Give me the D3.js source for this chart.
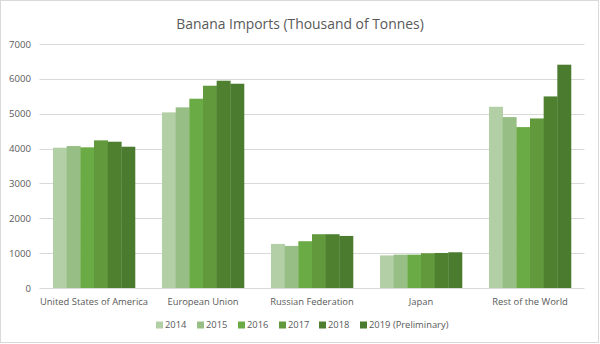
<!DOCTYPE html>
<html><head><meta charset="utf-8">
<script src="https://cdn.jsdelivr.net/npm/d3@7"></script>
<style>html,body{margin:0;padding:0;background:#fff;}svg{display:block;font-family:"Open Sans","Noto Sans",sans-serif;}</style>
</head><body><svg id="c" width="600" height="344"></svg>
<script>
const categories = ["United States of America","European Union","Russian Federation","Japan","Rest of the World"];
const years = ["2014","2015","2016","2017","2018","2019 (Preliminary)"];
const v2014 = [4025, 5038, 1264, 935, 5200];
const v2015 = [4073, 5182, 1207, 957, 4903];
const v2016 = [4035, 5430, 1342, 957, 4616];
const v2017 = [4236, 5803, 1543, 997, 4864];
const v2018 = [4197, 5947, 1543, 1005, 5496];
const v2019 = [4053, 5860, 1494, 1025, 6406];
const yTicks = [0,1000,2000,3000,4000,5000,6000,7000];
const colors = ["#b3cfa5","#97bf85","#6aab45","#62993d","#4e8030","#4b7b2e"];
const series = [v2014,v2015,v2016,v2017,v2018,v2019];

const svg = d3.select("#c");
svg.append("rect").attr("x",0.5).attr("y",0.5).attr("width",598).attr("height",342)
  .attr("fill","#fff").attr("stroke","#d9d9d9");

svg.append("text").attr("x",300).attr("y",28.5).attr("text-anchor","middle")
  .attr("font-size",13.9).attr("fill","#595959").text("Banana Imports (Thousand of Tonnes)");

const y = d3.scaleLinear().domain([0,7000]).range([288,44]);
const x0 = d3.scaleBand().domain(categories).range([39.5,584.5]).paddingInner(0.248).paddingOuter(0.124);
const x1 = d3.scaleBand().domain(years).range([0,x0.bandwidth()]);

// gridlines
svg.append("g").selectAll("line").data(yTicks).join("line")
  .attr("x1",39.5).attr("x2",584.5)
  .attr("y1",d=>Math.round(y(d))+0.5).attr("y2",d=>Math.round(y(d))+0.5)
  .attr("stroke","#d9d9d9").attr("stroke-width",1);

// y axis labels
const yAxis = d3.axisLeft(y).tickValues(yTicks).tickSize(0).tickPadding(0).tickFormat(d3.format("d"));
const ga = svg.append("g").attr("transform","translate(31,0)").call(yAxis);
ga.select(".domain").remove();
ga.selectAll("text").attr("font-size",9.6).attr("fill","#595959").attr("font-family","'Open Sans','Noto Sans',sans-serif");

// bars
const groups = svg.append("g").selectAll("g").data(categories).join("g")
  .attr("transform",d=>`translate(${x0(d)},0)`);
groups.selectAll("rect").data((c,i)=>years.map((yr,j)=>({yr,j,v:series[j][i]}))).join("rect")
  .attr("x",d=>x1(d.yr)).attr("width",x1.bandwidth()+0.3)
  .attr("y",d=>y(d.v)).attr("height",d=>y(0)-y(d.v))
  .attr("fill",d=>colors[d.j]);

// x axis labels
const xAxis = d3.axisBottom(x0).tickSize(0).tickPadding(0);
const gx = svg.append("g").attr("transform","translate(0,305)").call(xAxis);
gx.select(".domain").remove();
gx.selectAll("text").attr("font-size",9.4).attr("fill","#595959").attr("dy","0").attr("y",0).attr("font-family","'Open Sans','Noto Sans',sans-serif");

// legend
const legX = [156,197,238,279,319,360];
const lg = svg.append("g").selectAll("g").data(years).join("g")
  .attr("transform",(d,i)=>`translate(${legX[i]},325)`);
lg.append("rect").attr("x",0).attr("y",-3.5).attr("width",7).attr("height",7).attr("fill",(d,i)=>colors[i]);
lg.append("text").attr("x",9).attr("y",0).attr("dy","0.35em").attr("font-size",9.4).attr("fill","#595959").text(d=>d);
</script></body></html>
